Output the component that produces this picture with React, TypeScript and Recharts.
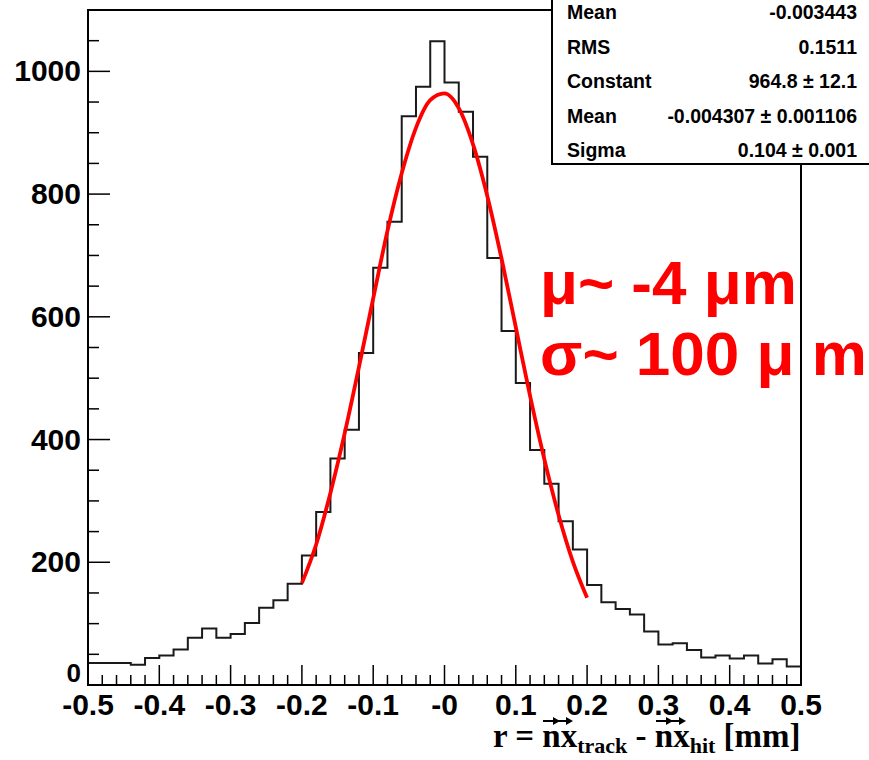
import { ComposedChart, Line, XAxis, YAxis, ReferenceArea } from "recharts";

// histogram: 50 bins of width 0.02 from -0.5 to 0.5
const binLow = -0.5;
const binWidth = 0.02;
const counts = [
  36, 36, 36, 33, 44, 48, 58, 77, 92, 77,
  83, 101, 126, 138, 165, 211, 282, 369, 416, 541,
  680, 755, 927, 975, 1049, 982, 934, 861, 696, 577,
  492, 383, 328, 267, 221, 163, 135, 124, 115, 87,
  66, 68, 57, 45, 48, 43, 48, 35, 42, 30,
];

// red fit curve
const fitX = [
  -0.2, -0.18, -0.16, -0.14, -0.12, -0.1, -0.08, -0.06, -0.04, -0.02, 0,
  0.02, 0.04, 0.06, 0.08, 0.1, 0.12, 0.14, 0.16, 0.18, 0.2,
];
const fitY = [
  166, 229, 313, 410, 518, 630, 740, 834, 908, 953, 964,
  940, 881, 797, 695, 583, 471, 368, 277, 201, 142,
];

const statRows = [
  ["Mean", "-0.003443"],
  ["RMS", "0.1511"],
  ["Constant", "964.8 \u00b1 12.1"],
  ["Mean", "-0.004307 \u00b1 0.001106"],
  ["Sigma", "0.104 \u00b1 0.001"],
];

const xTicks = Array.from({ length: 51 }, (_, i) => +(binLow + binWidth * i).toFixed(2));
const yTicks = Array.from({ length: 23 }, (_, i) => i * 50);

const histData = counts.map((c, i) => ({ x: +(binLow + binWidth * i).toFixed(2), y: c }));
histData.push({ x: 0.5, y: counts[counts.length - 1] });
const fitData = fitX.map((x, i) => ({ x, y: fitY[i] }));

const tickFont = "'Liberation Sans', Arial, sans-serif";

const XTick = (props: any) => {
  const { x, y, payload } = props;
  const v = payload.value as number;
  const major = Math.abs(v * 10 - Math.round(v * 10)) < 1e-6;
  const label = Math.abs(v) < 1e-9 ? "-0" : String(v);
  return (
    <g>
      <line x1={x} x2={x} y1={y} y2={y - (major ? 20 : 10)} stroke="#000" strokeWidth={1.5} />
      {major && (
        <text x={x} y={y + 30} textAnchor="middle" fontFamily={tickFont} fontWeight="bold" fontSize={30} fill="#000">
          {label}
        </text>
      )}
    </g>
  );
};

const YTick = (props: any) => {
  const { x, y, payload } = props;
  const v = payload.value as number;
  const major = v % 200 === 0 && v <= 1000;
  return (
    <g>
      <line x1={x} x2={x + (major ? 22 : 11)} y1={y} y2={y} stroke="#000" strokeWidth={1.5} />
      {major && (
        <text
          x={x - 7}
          y={v === 0 ? y - 3 : y + 10}
          textAnchor="end"
          fontFamily={tickFont}
          fontWeight="bold"
          fontSize={v === 0 ? 26 : 30}
          fill="#000"
        >
          {v}
        </text>
      )}
    </g>
  );
};

// small drawn arrow (not text) placed over a letter
const Arrow = ({ left }: { left: number }) => (
  <span style={{ position: "absolute", left, top: -6, width: 16, height: 8, display: "block" }}>
    <span style={{ position: "absolute", left: 0, top: 3, width: 11, height: 2, background: "#000", display: "block" }} />
    <span
      style={{
        position: "absolute",
        left: 10,
        top: 0,
        width: 0,
        height: 0,
        borderTop: "4px solid transparent",
        borderBottom: "4px solid transparent",
        borderLeft: "7px solid #000",
        display: "block",
      }}
    />
  </span>
);

const Vec = ({ children }: { children: string }) => (
  <span style={{ position: "relative", display: "inline-block", lineHeight: "26px" }}>
    {children}
    <Arrow left={1} />
    <Arrow left={14} />
  </span>
);

const subStyle = { fontSize: 22, position: "relative" as const, top: 6 };

export default function App() {
  return (
    <div style={{ position: "absolute", left: 0, top: 0, width: 869, height: 760, background: "#fff", overflow: "hidden" }}>
      <ComposedChart width={869} height={760} margin={{ top: 10, right: 68, bottom: 25, left: 0 }}>
        <XAxis
          dataKey="x"
          type="number"
          domain={[-0.5, 0.5]}
          ticks={xTicks}
          interval={0}
          tick={<XTick />}
          tickLine={false}
          tickSize={0}
          tickMargin={0}
          height={50}
          axisLine={{ stroke: "#000", strokeWidth: 2 }}
          allowDataOverflow
        />
        <YAxis
          type="number"
          domain={[0, 1100]}
          ticks={yTicks}
          interval={0}
          tick={<YTick />}
          tickLine={false}
          tickSize={0}
          tickMargin={0}
          width={88}
          axisLine={{ stroke: "#000", strokeWidth: 2 }}
          allowDataOverflow
        />
        <ReferenceArea x1={-0.5} x2={0.5} y1={0} y2={1100} fill="none" fillOpacity={0} stroke="#000" strokeWidth={2} />
        <Line
          data={histData}
          dataKey="y"
          type="stepAfter"
          stroke="#1a1a1a"
          strokeWidth={2}
          dot={false}
          isAnimationActive={false}
        />
        <Line
          data={fitData}
          dataKey="y"
          type="monotone"
          stroke="#ff0000"
          strokeWidth={3.8}
          dot={false}
          isAnimationActive={false}
        />
      </ComposedChart>

      <div
        style={{
          position: "absolute",
          left: 551,
          top: -40,
          width: 340,
          height: 201,
          border: "2px solid #000",
          background: "#fff",
          fontFamily: tickFont,
          fontWeight: "bold",
          fontSize: 19.5,
        }}
      >
        {statRows.map(([k, v], i) => (
          <div
            key={i}
            style={{
              position: "absolute",
              left: 14,
              width: 290,
              top: 38 + i * 34.6,
              lineHeight: "24px",
              display: "flex",
              justifyContent: "space-between",
            }}
          >
            <span>{k}</span>
            <span>{v}</span>
          </div>
        ))}
      </div>

      <div
        style={{
          position: "absolute",
          left: 540,
          top: 252,
          color: "#ff0000",
          fontFamily: tickFont,
          fontWeight: "bold",
          fontSize: 62,
          lineHeight: 1,
          whiteSpace: "pre",
        }}
      >
        {"\u03bc~ -4 \u03bcm"}
      </div>
      <div
        style={{
          position: "absolute",
          left: 540,
          top: 323,
          color: "#ff0000",
          fontFamily: tickFont,
          fontWeight: "bold",
          fontSize: 62,
          lineHeight: 1,
          whiteSpace: "pre",
        }}
      >
        {"\u03c3~ 100 \u03bc m"}
      </div>

      <div
        style={{
          position: "absolute",
          left: 493,
          top: 723,
          fontFamily: "'Liberation Serif', 'Times New Roman', serif",
          fontWeight: "bold",
          fontSize: 33,
          lineHeight: "26px",
          whiteSpace: "pre",
          color: "#000",
        }}
      >
        {"r = "}
        <Vec>nx</Vec>
        <span style={subStyle}>track</span>
        {" - "}
        <Vec>nx</Vec>
        <span style={subStyle}>hit</span>
        {" [mm]"}
      </div>
    </div>
  );
}
